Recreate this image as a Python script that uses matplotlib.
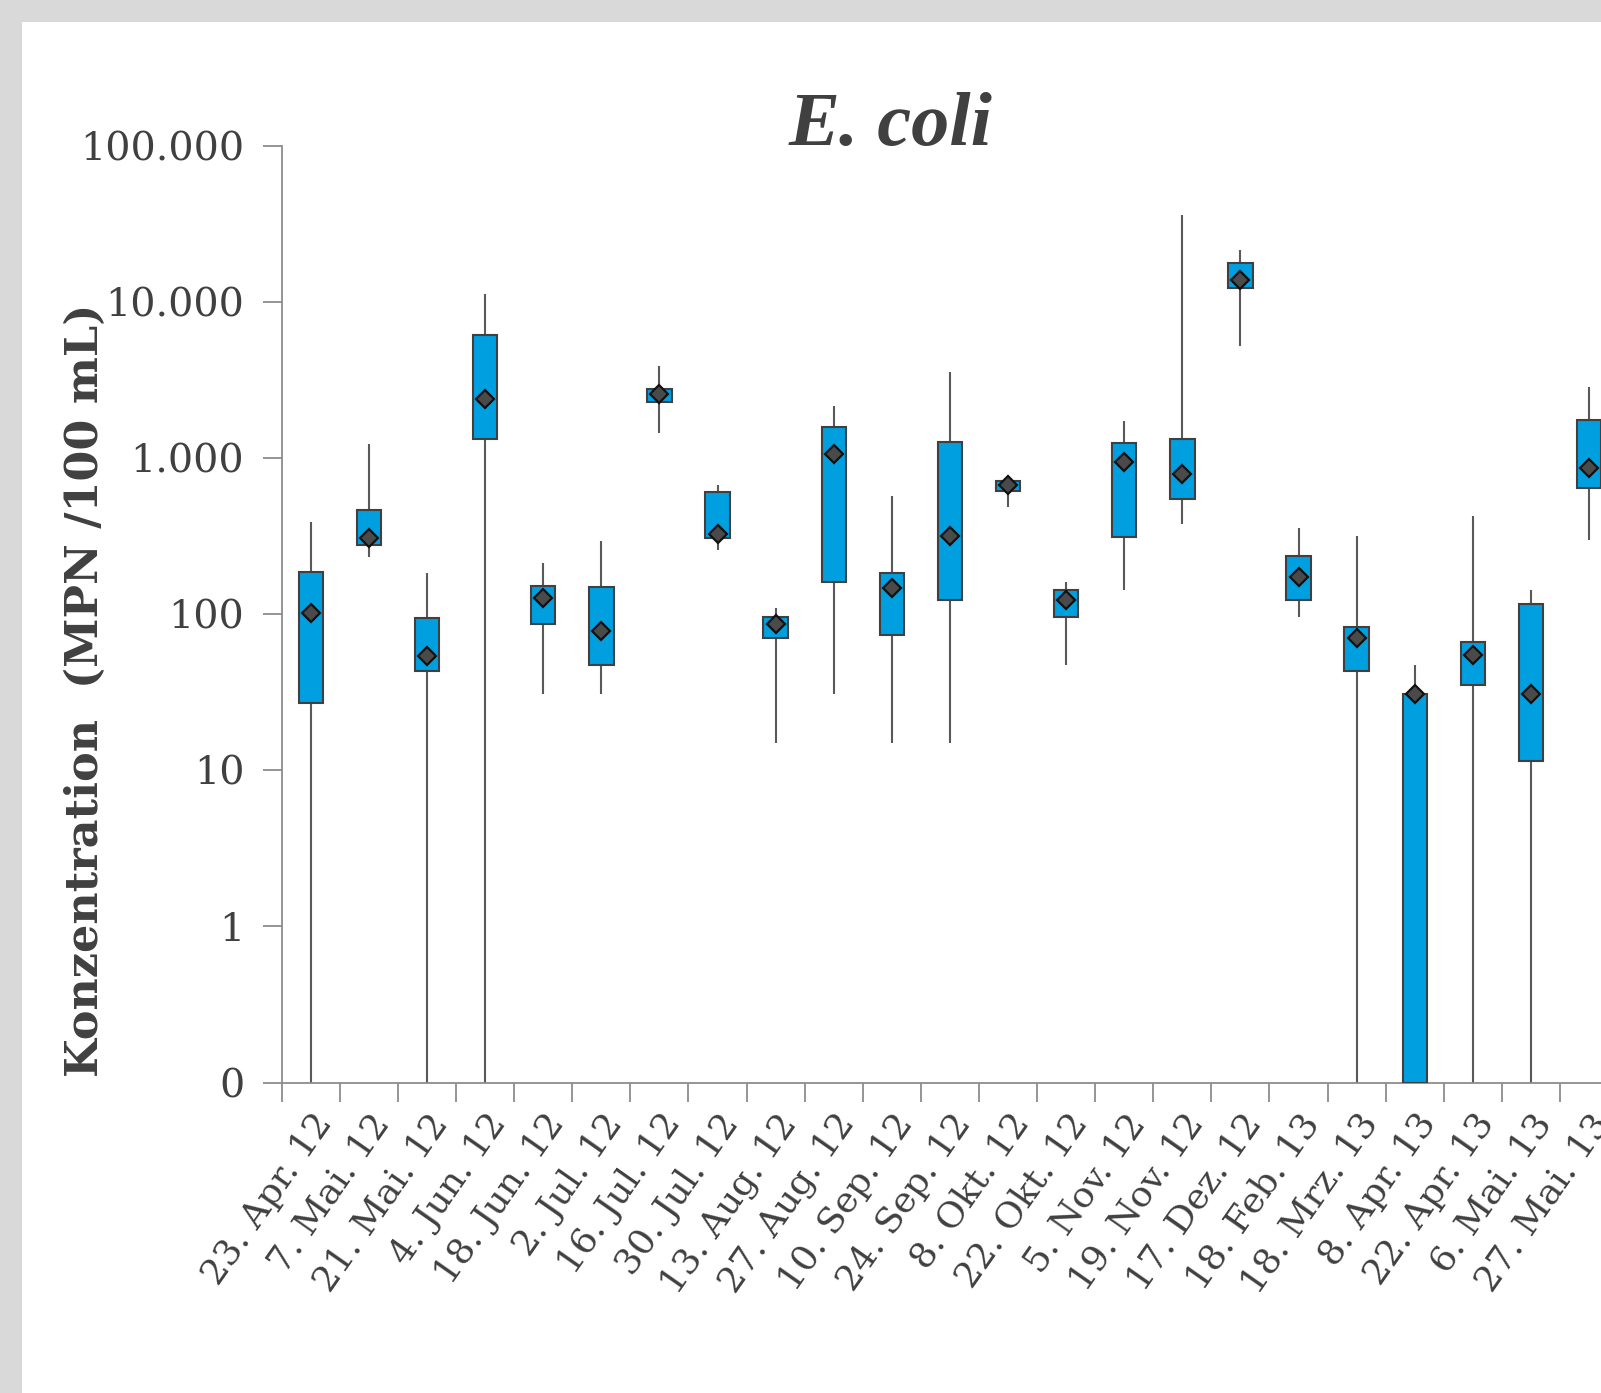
import matplotlib
matplotlib.use("Agg")
import matplotlib.pyplot as plt
import matplotlib.patches as mpatches
import numpy as np

# Probenahmetermine
dates = ["23. Apr. 12", "7. Mai. 12", "21. Mai. 12", "4. Jun. 12", "18. Jun. 12",
         "2. Jul. 12", "16. Jul. 12", "30. Jul. 12", "13. Aug. 12", "27. Aug. 12",
         "10. Sep. 12", "24. Sep. 12", "8. Okt. 12", "22. Okt. 12", "5. Nov. 12",
         "19. Nov. 12", "17. Dez. 12", "18. Feb. 13", "18. Mrz. 13", "8. Apr. 13",
         "22. Apr. 13", "6. Mai. 13", "27. Mai. 13"]

# E. coli (MPN/100 mL): Minimum, unteres Quartil, oberes Quartil, Maximum, Median
w_min = [0, 234, 0, 0, 31, 31, 1450, 257, 15, 31, 15, 15, 490, 47, 143,
         380, 5200, 96, 0, 0, 0, 0, 300]
q_low = [27, 277, 43, 1330, 87, 47, 2290, 308, 70, 161, 74, 123, 615, 96, 313,
         546, 12400, 123, 43, 0, 35, 11.5, 644]
q_high = [187, 469, 95, 6200, 152, 149, 2780, 607, 96, 1590, 184, 1270, 716, 143, 1250,
          1330, 17700, 238, 83, 31, 66, 117, 1770]
w_max = [392, 1230, 184, 11300, 214, 294, 3870, 674, 110, 2150, 571, 3590, 784, 161, 1740,
         36000, 21600, 358, 317, 47, 428, 143, 2870]
median = [102, 307, 54, 2390, 128, 78, 2580, 327, 87, 1060, 147, 317, 675, 123, 940,
          796, 13900, 173, 70, 31, 55, 31, 871]

ytick_vals = [0.1, 1, 10, 100, 1000, 10000, 100000]
ytick_labels = ["0", "1", "10", "100", "1.000", "10.000", "100.000"]

text_col = "#404040"
axis_col = "#8c8c8c"
box_col = "#009fe0"

fig = plt.figure(figsize=(16.01, 13.93), dpi=100, facecolor="#d9d9d9")
fig.patches.append(mpatches.Rectangle((22 / 1568, 0), 1, 1 - 22 / 1364,
                                      transform=fig.transFigure, facecolor="white",
                                      edgecolor="none", zorder=-10))

n_slots = 24
ax = fig.add_axes([276 / 1568, 1 - 1060 / 1364, n_slots * 56.9 / 1568, (1060 - 143) / 1364])
ax.set_facecolor("none")

floor = ytick_vals[0]
x = np.arange(len(dates))
lo = np.maximum(np.array(q_low, float), floor)
hi = np.maximum(np.array(q_high, float), floor)
wlo = np.maximum(np.array(w_min, float), floor)
whi = np.array(w_max, float)

ax.vlines(x, wlo, whi, color="#595959", lw=1.5, zorder=2)
ax.bar(x, hi - lo, bottom=lo, width=0.42, color=box_col, edgecolor=text_col,
       linewidth=1.5, zorder=3)
ax.plot(x, median, ls="none", marker="D", ms=9, mfc="#4a4a4a", mec="#111111",
        mew=1.6, zorder=4)

ax.set_yscale("log")
ax.set_ylim(floor, 100000)
ax.set_xlim(-0.5, n_slots - 0.5)
ax.set_yticks(ytick_vals)
ax.set_yticklabels(ytick_labels)
ax.minorticks_off()
ax.tick_params(axis="y", length=14, width=1.3, color=axis_col, labelcolor=text_col,
               labelsize=28.5, pad=13)
for lab in ax.get_yticklabels():
    lab.set_family("DejaVu Serif")

ax.set_xticks(x)
ax.set_xticklabels(dates, rotation=55, ha="right", va="top", rotation_mode="anchor",
                   family="DejaVu Serif", fontsize=26, color=text_col)
ax.tick_params(axis="x", which="major", length=0, pad=18)
ax.set_xticks(np.arange(-0.5, n_slots), minor=True)
ax.tick_params(axis="x", which="minor", length=14, width=1.3, color=axis_col)

for s in ["top", "right"]:
    ax.spines[s].set_visible(False)
for s in ["left", "bottom"]:
    ax.spines[s].set_color(axis_col)
    ax.spines[s].set_linewidth(1.3)

fig.text(890 / 1601, 1 - 124 / 1364, "E. coli", ha="center", va="center",
         family="Liberation Serif", fontsize=55, fontweight="bold", style="italic",
         color=text_col)
fig.text(84 / 1568, 1 - 676 / 1364, "Konzentration  (MPN /100 mL)", rotation=90,
         ha="center", va="center", family="DejaVu Serif", fontsize=32,
         fontweight="bold", color=text_col)

fig.savefig("out.png", dpi=100, facecolor=fig.get_facecolor())
